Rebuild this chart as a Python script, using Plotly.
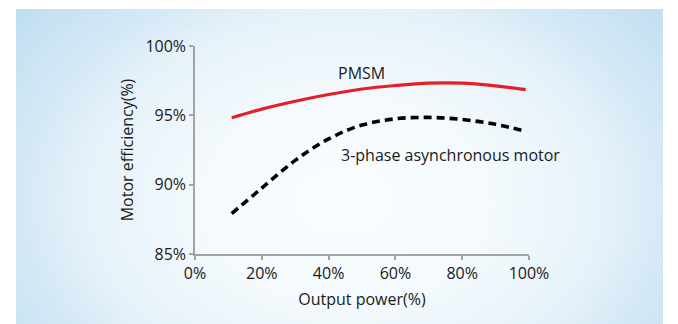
import base64
import struct
import zlib

import numpy as np
import plotly.graph_objects as go

# Output power (% of rated) and motor efficiency (%)
output_power = [11, 20, 30, 40, 50, 60, 70, 80, 90, 99]
pmsm_eff = [94.82, 95.45, 96.02, 96.5, 96.9, 97.15, 97.32, 97.32, 97.12, 96.86]
async_eff = [87.92, 89.75, 91.75, 93.3, 94.3, 94.75, 94.85, 94.7, 94.35, 93.85]

x_ticks = [0, 20, 40, 60, 80, 100]
x_labels = ["0%", "20%", "40%", "60%", "80%", "100%"]
y_ticks = [85, 90, 95, 100]
y_labels = ["85%", "90%", "95%", "100%"]

W, H = 678, 324
L, R, T, B = 195, 149, 46, 70
plot_w, plot_h = W - L - R, H - T - B


def png_data_uri(rgb):
    """Encode an (h, w, 3) uint8 array as a PNG data URI."""
    h, w, _ = rgb.shape
    raw = b"".join(b"\x00" + rgb[i].tobytes() for i in range(h))

    def chunk(tag, data):
        c = struct.pack(">I", len(data)) + tag + data
        return c + struct.pack(">I", zlib.crc32(tag + data) & 0xFFFFFFFF)

    png = (b"\x89PNG\r\n\x1a\n"
           + chunk(b"IHDR", struct.pack(">IIBBBBB", w, h, 8, 2, 0, 0, 0))
           + chunk(b"IDAT", zlib.compress(raw, 9))
           + chunk(b"IEND", b""))
    return "data:image/png;base64," + base64.b64encode(png).decode()


# Soft radial light-blue backdrop panel
px0, px1, py0, py1 = 16, 663, 9, 324
pw, ph = px1 - px0, py1 - py0
yy, xx = np.mgrid[py0:py1, px0:px1].astype(float)
t = np.sqrt(((xx - 345) / 360) ** 2 + ((yy - 200) / 260) ** 2)
knots = [0, 0.4, 0.73, 0.88, 1.15, 1.6]
chan_r = [250, 244, 230, 214, 194, 186]
chan_g = [253, 250, 242, 234, 223, 219]
chan_b = [255, 253, 250, 246, 242, 240]
bg = np.stack([np.interp(t, knots, c) for c in (chan_r, chan_g, chan_b)], axis=-1)
bg = np.clip(bg, 0, 255).astype(np.uint8)

fig = go.Figure()

fig.add_trace(go.Scatter(
    x=output_power, y=pmsm_eff, mode="lines", name="PMSM",
    line=dict(color="#e51f2b", width=3.2, shape="spline", smoothing=1.0),
))
fig.add_trace(go.Scatter(
    x=output_power, y=async_eff, mode="lines", name="3-phase asynchronous motor",
    line=dict(color="#000000", width=3.6, shape="spline", smoothing=1.0,
              dash="8px,5px"),
))

font = "Open Sans, Noto Sans, sans-serif"
txt = "#1a1a1a"
fs = 16

fig.add_annotation(x=(361 - L) / plot_w * 100, y=(H - B - 72.5) / plot_h,
                   xref="x", yref="paper", text="PMSM", showarrow=False,
                   xanchor="center", yanchor="middle",
                   font=dict(size=fs, color=txt))
fig.add_annotation(x=(339 - L) / plot_w * 100, y=(H - B - 155) / plot_h,
                   xref="x", yref="paper", text="3-phase asynchronous motor",
                   showarrow=False, xanchor="left", yanchor="middle",
                   font=dict(size=fs, color=txt))

fig.add_layout_image(
    source=png_data_uri(bg), xref="paper", yref="paper",
    x=(px0 - L) / plot_w, y=(H - B - py0) / plot_h,
    sizex=pw / plot_w, sizey=ph / plot_h,
    xanchor="left", yanchor="top", sizing="stretch", layer="below",
)

axis_common = dict(
    showgrid=False, zeroline=False, showline=True, linecolor="#a3a3a3",
    linewidth=1.5, ticks="outside", ticklen=4, tickcolor="#a3a3a3",
    tickwidth=1.5, tickmode="array", tickfont=dict(size=fs, color=txt),
)

fig.update_xaxes(range=[0, 100], tickvals=x_ticks, ticktext=x_labels,
                 title=dict(text="Output power(%)", font=dict(size=fs, color=txt),
                            standoff=11),
                 **axis_common)
fig.update_yaxes(range=[85, 100], tickvals=y_ticks, ticktext=y_labels,
                 title=dict(text="Motor efficiency(%)", font=dict(size=fs, color=txt),
                            standoff=8),
                 **axis_common)

fig.update_layout(
    width=W, height=H, margin=dict(l=L, r=R, t=T, b=B, autoexpand=False),
    paper_bgcolor="#ffffff", plot_bgcolor="rgba(0,0,0,0)",
    showlegend=False, font=dict(family=font, color=txt),
)

fig.write_html("out.html")
